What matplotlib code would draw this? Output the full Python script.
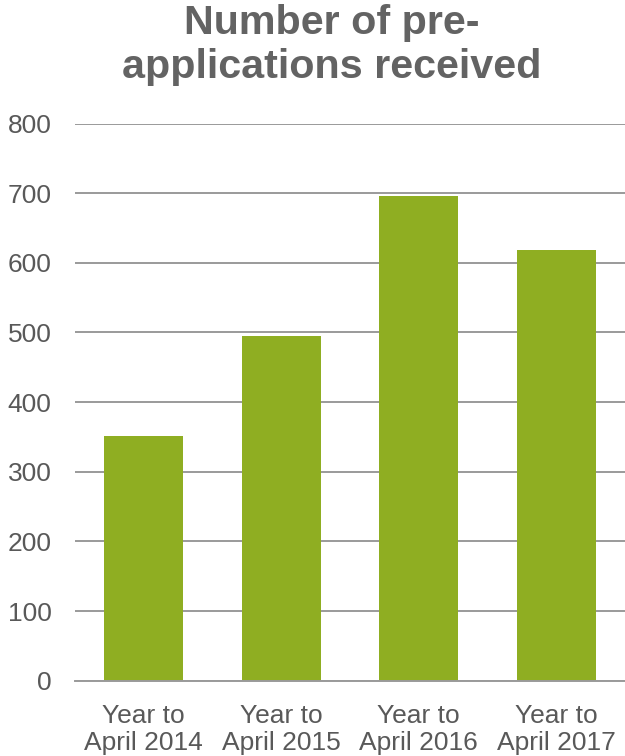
"""Number of pre-applications received, bar chart."""

import matplotlib
matplotlib.use("Agg")
import matplotlib.pyplot as plt

categories = ["Year to\nApril 2014", "Year to\nApril 2015",
              "Year to\nApril 2016", "Year to\nApril 2017"]
values = [351, 495, 696, 618]
y_ticks = [0, 100, 200, 300, 400, 500, 600, 700, 800]

BAR = "#8FAE22"
TEXT = "#595959"
GRID = "#9a9a9a"

plt.rcParams["font.family"] = ["Liberation Sans", "DejaVu Sans"]

fig = plt.figure(figsize=(6.25, 7.56), dpi=100)
ax = fig.add_axes([0.12, 0.0996, 0.88, 0.737])

x = range(len(categories))
ax.bar(x, values, width=0.575, color=BAR, zorder=3)

ax.set_xlim(-0.5, len(categories) - 0.5)
ax.set_ylim(0, 800)
ax.set_yticks(y_ticks)
ax.set_xticks(list(x))
ax.set_xticklabels(categories, linespacing=1.2)

ax.grid(axis="y", color=GRID, linewidth=1.4, zorder=0)
for s in ("top", "right", "left"):
    ax.spines[s].set_visible(False)
ax.spines["bottom"].set_color(GRID)
ax.spines["bottom"].set_linewidth(1.4)
ax.spines["bottom"].set_zorder(4)

ax.tick_params(axis="y", length=0, pad=17, labelsize=19, labelcolor=TEXT)
ax.tick_params(axis="x", length=0, pad=16.5, labelsize=19, labelcolor=TEXT)

fig.text(0.53, 0.995, "Number of pre-\napplications received", ha="center",
         va="top", fontsize=29.7, fontweight="bold", color="#636363",
         linespacing=1.22)

fig.savefig("out.png", dpi=100)
